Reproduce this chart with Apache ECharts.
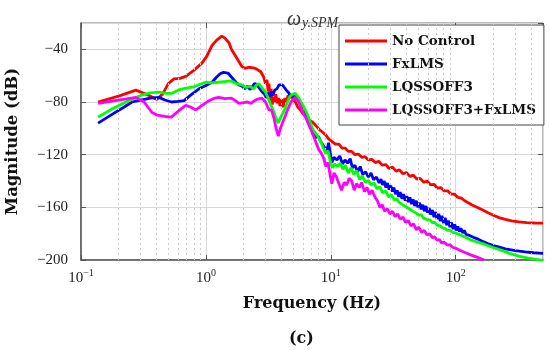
<!DOCTYPE html>
<html>
<head>
<meta charset="utf-8">
<script src="https://cdn.jsdelivr.net/npm/echarts@6/dist/echarts.min.js"></script>
<style>html,body{margin:0;padding:0;background:#fff}#c{width:550px;height:350px}</style>
</head>
<body>
<div id="c"></div>
<script>
// ---- data (frequency Hz, magnitude dB) ----
var seriesNames = ['No Control', 'FxLMS', 'LQSSOFF3', 'LQSSOFF3+FxLMS'];
var seriesColors = ['#ff0000', '#0000ff', '#00ff00', '#ff00ff'];
var yTicks = [-200, -160, -120, -80, -40];
var xDecades = [0.1, 1, 10, 100];
var minorFreqs = [0.2,0.3,0.4,0.5,0.6,0.7,0.8,0.9,2,3,4,5,6,7,8,9,20,30,40,50,60,70,80,90,200,300,400];

var noControl = [[0.137,-80],[0.2,-75.5],[0.275,-71],[0.33,-74],[0.405,-78],[0.45,-74],[0.5,-66],[0.555,-62.5],[0.62,-62],[0.69,-60.5],[0.8,-56],[0.93,-50.5],[1.02,-45],[1.12,-37],[1.22,-33],[1.34,-30],[1.42,-31.5],[1.53,-35],[1.6,-40],[1.75,-46],[1.94,-53],[2.05,-54.5],[2.2,-53.6],[2.4,-54],[2.55,-55],[2.75,-57],[2.9,-61],[3.0,-66],[3.08,-63],[3.15,-72],[3.2,-66],[3.27,-79],[3.33,-70],[3.4,-82],[3.47,-76],[3.55,-80],[3.63,-74],[3.72,-81],[3.82,-77],[3.92,-83],[4.03,-78],[4.15,-84],[4.28,-77],[4.4,-80],[4.55,-75],[4.7,-77],[4.85,-75],[5.0,-78],[5.2,-80],[5.45,-84],[5.7,-86],[6.0,-89],[6.3,-91],[6.7,-94],[7.1,-95],[7.6,-98],[8.1,-101],[8.6,-103],[9.1,-105],[9.6,-108],[10.2,-110],[10.9,-112],[11.6,-112],[12.3,-115],[13,-115],[13.8,-117.5],[14.7,-117.5],[15.6,-120],[16.6,-119.5],[17.7,-122],[18.8,-121.5],[20,-124],[21.3,-123.5],[22.7,-126],[24.2,-125],[25.8,-128],[27.5,-127.5],[29.3,-130.5],[31.2,-129.5],[33.3,-132.5],[35.5,-131.5],[37.8,-134.5],[40.3,-133.5],[43,-136.5],[45.8,-135.5],[48.8,-138.5],[52,-138],[55.4,-141],[59,-140],[62.9,-143],[67,-142.5],[71.4,-145.5],[76,-145],[81,-147.5],[86.3,-147.5],[92,-150],[98,-150],[104,-152.5],[111,-153],[118,-155],[126,-156.5],[134,-158],[145,-159.5],[160,-161.5],[180,-164],[200,-166],[225,-168],[250,-169.2],[280,-170.2],[320,-171],[370,-171.6],[430,-171.9],[500,-172]];

var fxlms = [[0.137,-96],[0.18,-89],[0.22,-84],[0.256,-80],[0.3,-78.5],[0.36,-77],[0.42,-76.5],[0.47,-78.5],[0.53,-80],[0.6,-79.5],[0.67,-79],[0.75,-75],[0.88,-70],[1.0,-67.5],[1.12,-65],[1.22,-61],[1.3,-58.5],[1.38,-57.5],[1.5,-58],[1.6,-61],[1.74,-65],[1.84,-67],[1.95,-68],[2.05,-70],[2.15,-68],[2.25,-70.5],[2.35,-68.5],[2.45,-66],[2.55,-66.5],[2.65,-69],[2.8,-72],[2.95,-74],[3.05,-77],[3.15,-73],[3.25,-76],[3.35,-72],[3.45,-75],[3.55,-71],[3.7,-70],[3.85,-67],[3.98,-65.5],[4.1,-67],[4.25,-69],[4.4,-71],[4.6,-73],[4.8,-76],[5.0,-75.5],[5.2,-74],[5.45,-77],[5.7,-80],[6.0,-84],[6.3,-88],[6.7,-94],[7.0,-101],[7.3,-104],[7.6,-107],[7.95,-106],[8.3,-110],[8.7,-113],[9.0,-112],[9.3,-117],[9.6,-111],[9.9,-119],[10.2,-126],[10.6,-122],[11.2,-124],[11.8,-121],[12.4,-127],[13,-124],[13.7,-126.5],[14.3,-123],[14.9,-130],[15.6,-128],[16.4,-133],[17.2,-129],[18,-135],[19,-133],[20,-137],[21,-134],[22,-139],[23.2,-137],[24.4,-141.5],[25.2,-138.5],[26,-143],[26.8,-140],[27.6,-145],[28.4,-141.5],[29.3,-146.5],[30.2,-143.5],[31.1,-148],[32,-145],[33,-150],[34,-147],[35,-152],[36,-148.5],[37.1,-153.5],[38.2,-150],[39.4,-155],[40.6,-151.5],[41.8,-156],[43,-152.5],[44.3,-157.5],[45.6,-154],[47,-159],[48.4,-155],[49.9,-160],[51.4,-156.5],[52.9,-161.5],[54.5,-158],[56.1,-163],[57.8,-159],[59.5,-164],[61.3,-160.5],[63.1,-165.5],[65,-162],[67,-167.5],[69,-163.5],[71,-169],[73.1,-165],[75.3,-170.5],[77.6,-166.5],[79.9,-172],[82.3,-168],[84.8,-173.5],[87.3,-170],[89.9,-175],[92.6,-171.5],[95.4,-176.5],[98.3,-173],[101,-177.5],[104,-174.5],[107,-178.5],[110,-176],[114,-179.5],[117,-177.5],[121,-180.5],[125,-179.5],[130,-181.5],[140,-183],[150,-184],[162,-185.5],[180,-187.5],[200,-189],[220,-190],[250,-191.5],[300,-192.8],[360,-193.8],[420,-194.5],[500,-195]];

var lqssoff3 = [[0.137,-91.5],[0.18,-85],[0.24,-79],[0.3,-75],[0.36,-73],[0.42,-72.5],[0.48,-73.5],[0.53,-73.5],[0.6,-71],[0.69,-69.5],[0.8,-68.5],[0.9,-66.5],[1.0,-65],[1.1,-65.5],[1.25,-65],[1.4,-64.5],[1.6,-64],[1.75,-66],[1.94,-67],[2.1,-69],[2.25,-68],[2.4,-70],[2.55,-67],[2.65,-66],[2.8,-69],[3.0,-72.5],[3.15,-77],[3.3,-82],[3.45,-86],[3.6,-91],[3.8,-96],[3.95,-92],[4.1,-89],[4.3,-85],[4.5,-80],[4.7,-76],[4.95,-74],[5.2,-73.5],[5.45,-76],[5.75,-80],[6.1,-84],[6.4,-88],[6.7,-93],[7.0,-98],[7.3,-102],[7.6,-104],[7.95,-107],[8.3,-110],[8.7,-115],[9.1,-119],[9.5,-117],[9.9,-125],[10.3,-130],[10.8,-127],[11.3,-129],[11.9,-126.5],[12.5,-131],[13.1,-128],[13.8,-134],[14.5,-130],[15.3,-135],[16.1,-132],[17,-139],[17.9,-136],[18.9,-141],[20,-139.5],[21,-143],[22.2,-141.5],[23.4,-146],[24.7,-144.5],[26,-149],[27.5,-147.5],[29,-152],[30.6,-150.5],[32.3,-154.5],[34,-153.5],[35,-156],[36,-155],[37,-157.5],[38,-156.5],[39,-159],[40,-158],[41.5,-160.5],[43,-159.5],[44.5,-162.5],[46,-161.5],[47.5,-164],[49,-163.5],[51,-166],[53,-165.5],[55,-168],[57,-167.5],[59.5,-169.5],[62,-169.5],[65,-171.5],[68,-171.5],[71,-173.5],[75,-174],[78,-175.5],[82,-176],[86,-177.5],[90,-177.5],[95,-179],[100,-179.5],[115,-182],[130,-184.5],[150,-186.5],[170,-188],[200,-190.5],[230,-192.5],[270,-195],[320,-197],[380,-198.5],[440,-199.5],[500,-200.2]];

var lqssoff3Fx = [[0.137,-81],[0.2,-78.5],[0.275,-76.5],[0.32,-80],[0.37,-88],[0.41,-90],[0.47,-91],[0.53,-91.5],[0.6,-87],[0.69,-82.5],[0.76,-84],[0.83,-86],[0.92,-83],[1.06,-79],[1.18,-77],[1.27,-76.5],[1.42,-77.5],[1.6,-77],[1.72,-79],[1.84,-81],[2.0,-80.5],[2.15,-80],[2.3,-81],[2.45,-79],[2.56,-78],[2.8,-77],[3.0,-80],[3.2,-86],[3.35,-86],[3.5,-92],[3.65,-100],[3.8,-106],[3.95,-100],[4.1,-96],[4.3,-91],[4.55,-85],[4.8,-80],[5.0,-78],[5.2,-77],[5.45,-79],[5.7,-83],[6.0,-88],[6.3,-92],[6.65,-97],[7.0,-102],[7.35,-107],[7.7,-112],[8.0,-116],[8.4,-119],[8.8,-123],[9.1,-129],[9.5,-126],[9.9,-136],[10.2,-142],[10.6,-134],[11.1,-137],[11.6,-142],[12.2,-147],[12.8,-141],[13.4,-143],[14,-138],[14.7,-140],[15.4,-147],[16.1,-142],[16.9,-145],[17.7,-141],[18.6,-148],[19.5,-145],[20.4,-150],[21.4,-147],[22.5,-152],[23.6,-155],[24.7,-160],[25.8,-158],[27,-163],[28.3,-161],[29.7,-165],[31.2,-163],[32.7,-167],[34.3,-165],[36,-169],[37.8,-167.5],[39.7,-171.5],[41.7,-170],[43.8,-174],[46,-172.5],[48.3,-177],[50.7,-175],[53.2,-179],[56,-177.5],[59,-181],[62,-180],[65,-183],[68,-182.5],[71,-185],[74,-184.5],[77,-187],[81,-186.5],[85,-188.5],[90,-188.5],[95,-190.5],[100,-191],[110,-193],[120,-194.5],[135,-196.5],[150,-198],[168,-200]];

var seriesData = [noControl, fxlms, lqssoff3, lqssoff3Fx];

// ---- chart ----
var chart = echarts.init(document.getElementById('c'), null, {renderer: 'canvas'});
var tickFont = 'Liberation Serif';
var boldFont = 'DejaVu Serif';

function decadeLabel(v) {
  var e = Math.round(Math.log10(v));
  var s = String(e).replace('-', '\u2212');
  return '{b|10}{s|' + s + '}';
}

var series = [{
  type: 'line', name: '_grid', data: [], silent: true, z: 1,
  markLine: {
    silent: true, symbol: 'none', animation: false,
    label: {show: false},
    lineStyle: {type: [2, 3], color: '#cccccc', width: 1},
    data: minorFreqs.map(function (f) { return {xAxis: f}; })
  }
}];
seriesData.forEach(function (d, i) {
  series.push({
    type: 'line', name: seriesNames[i], data: d, showSymbol: false, symbol: 'none',
    lineStyle: {color: seriesColors[i], width: 2.8}, itemStyle: {color: seriesColors[i]},
    z: 3 + i, animation: false
  });
});

chart.setOption({
  animation: false,
  backgroundColor: '#fff',
  title: [{
    text: '{w|\u03c9}{s|y.SPM}',
    left: 282, top: 1,
    textStyle: {
      fontWeight: 'normal',
      rich: {
        w: {fontFamily: tickFont, fontStyle: 'italic', fontWeight: 'normal', fontSize: 20, lineHeight: 24, color: '#333', verticalAlign: 'bottom'},
        s: {fontFamily: tickFont, fontStyle: 'italic', fontWeight: 'normal', fontSize: 14, color: '#333', padding: [9, 0, 0, 1], verticalAlign: 'bottom'}
      }
    }
  }, {
    text: '(c)', left: 284, top: 326,
    textStyle: {fontFamily: boldFont, fontWeight: 'bold', fontSize: 16, color: '#111'}
  }],
  legend: {
    data: seriesNames, orient: 'vertical', left: 339, top: 25,
    backgroundColor: '#fff', borderColor: '#444', borderWidth: 1,
    padding: [8, 8, 7, 6], itemGap: 7, itemWidth: 42, itemHeight: 3, icon: 'rect',
    textStyle: {fontFamily: boldFont, fontWeight: 'bold', fontSize: 13.5, lineHeight: 16, color: '#111'}
  },
  grid: {left: 81, right: 7, top: 23, bottom: 90, show: true, borderColor: '#777', borderWidth: 1,
         containLabel: false, outerBoundsMode: 'none'},
  xAxis: [{
    type: 'log', logBase: 10, min: 0.1, max: 500,
    name: 'Frequency (Hz)', nameLocation: 'middle', nameGap: 36,
    nameTextStyle: {fontFamily: boldFont, fontWeight: 'bold', fontSize: 16, color: '#111'},
    axisLine: {lineStyle: {color: '#555', width: 1.5}},
    axisTick: {inside: true, length: 5, lineStyle: {color: '#555'}},
    axisLabel: {
      margin: 8, showMaxLabel: false,
      formatter: function (v) { return decadeLabel(v); },
      rich: {
        b: {fontFamily: tickFont, fontSize: 15, color: '#222', verticalAlign: 'bottom', lineHeight: 18},
        s: {fontFamily: tickFont, fontSize: 10, color: '#222', verticalAlign: 'top', padding: [0, 0, 8, 0]}
      }
    },
    splitLine: {show: true, lineStyle: {color: '#d8d8d8', width: 1}}
  }, {
    type: 'log', logBase: 10, min: 0.1, max: 500, position: 'top',
    axisLine: {show: false}, axisLabel: {show: false}, splitLine: {show: false},
    axisTick: {inside: true, length: 5, lineStyle: {color: '#555'}}
  }],
  yAxis: [{
    type: 'value', min: -200, max: -20, interval: 40,
    name: 'Magnitude (dB)', nameLocation: 'middle', nameGap: 60,
    nameTextStyle: {fontFamily: boldFont, fontWeight: 'bold', fontSize: 16.5, color: '#111'},
    axisLine: {show: true, lineStyle: {color: '#555', width: 1.5}},
    axisTick: {show: true, inside: true, length: 5, lineStyle: {color: '#555'}},
    axisLabel: {
      showMaxLabel: false, margin: 13, fontFamily: tickFont, fontSize: 15, color: '#222',
      formatter: function (v) { return String(v).replace('-', '\u2212'); }
    },
    splitLine: {show: true, lineStyle: {color: '#d8d8d8', width: 1}}
  }, {
    type: 'value', min: -200, max: -20, interval: 40, position: 'right',
    axisLine: {show: false}, axisLabel: {show: false}, splitLine: {show: false},
    axisTick: {show: true, inside: true, length: 5, lineStyle: {color: '#555'}}
  }],
  series: series
});
</script>
</body>
</html>
